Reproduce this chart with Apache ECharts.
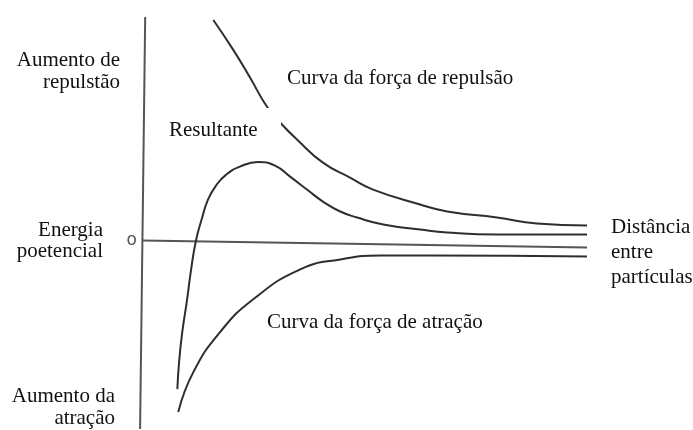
<!DOCTYPE html>
<html>
<head>
<meta charset="utf-8">
<title>Energia potencial</title>
<script src="https://cdn.jsdelivr.net/npm/echarts@6.0.0/dist/echarts.min.js"></script>
<style>
  html, body { margin: 0; padding: 0; background: #fff; }
  #chart { width: 693px; height: 430px; }
</style>
</head>
<body>
<div id="chart"></div>
<script>
// curvas (x = distância, y = energia)
const repulsaoX = [1.58, 2.03, 2.41, 2.79, 3.09, 3.47, 4.05, 4.66, 5.18, 6.24, 6.85, 7.97, 8.87, 10];
const repulsaoY = [11.05, 9.55, 8.15, 6.7, 5.9, 5.05, 3.9, 3.15, 2.55, 1.8, 1.45, 1.15, 0.85, 0.75];

const resultanteX = [0.77, 0.81, 0.88, 0.99, 1.08, 1.19, 1.33, 1.46, 1.64, 1.87, 2.18, 2.59, 2.97, 3.31, 3.69, 4.05, 4.44, 4.82, 5.41, 6.24, 6.85, 7.97, 10];
const resultanteY = [-7.45, -6.05, -4.6, -2.95, -1.45, 0, 1.15, 2.05, 2.75, 3.3, 3.7, 3.93, 3.75, 3.2, 2.55, 1.95, 1.45, 1.15, 0.8, 0.55, 0.4, 0.3, 0.3];

const atracaoX = [0.79, 1.13, 1.73, 2.48, 3.54, 4.44, 5.34, 6.47, 10];
const atracaoY = [-8.6, -6.6, -4.6, -2.95, -1.45, -0.95, -0.75, -0.75, -0.8];

// eixos desenhados a mão (levemente inclinados no original)
const eixoVertX = [0.045, -0.07];
const eixoVertY = [11.2, -9.45];
const eixoHorX = [-0.02, 10];
const eixoHorY = [0, -0.35];

function pares(xs, ys) {
  return xs.map((x, i) => [x, ys[i]]);
}

const fonte = '21px "Liberation Serif", "Times New Roman", serif';

function texto(t, x, y, align) {
  return {
    type: 'text',
    z: 101,
    style: { text: t, x: x, y: y, font: fonte, fill: '#111', align: align, verticalAlign: 'middle' }
  };
}

function curva(nome, dados, cor, suave) {
  return {
    name: nome,
    type: 'line',
    data: dados,
    showSymbol: false,
    smooth: suave,
    clip: false,
    silent: true,
    lineStyle: { color: cor, width: 2 }
  };
}

let myChart = echarts.init(document.getElementById('chart'));

myChart.setOption({
  animation: false,
  backgroundColor: '#fff',
  grid: { left: 121, top: 11, width: 466, height: 420 },
  xAxis: {
    type: 'value',
    min: -0.5,
    max: 10,
    axisLine: { show: false },
    axisTick: { show: false },
    axisLabel: { show: false },
    splitLine: { show: false }
  },
  yAxis: {
    type: 'value',
    min: -9.5,
    max: 11.5,
    interval: 0.5,
    axisLine: { show: false },
    axisTick: { show: false },
    splitLine: { show: false },
    axisLabel: {
      margin: -16,
      color: '#555',
      fontFamily: 'DejaVu Sans',
      fontSize: 17,
      formatter: v => (v === 0 ? 'o' : '')
    }
  },
  series: [
    curva('eixo vertical', pares(eixoVertX, eixoVertY), '#555', false),
    curva('eixo horizontal', pares(eixoHorX, eixoHorY), '#555', false),
    curva('Curva da força de repulsão', pares(repulsaoX, repulsaoY), '#2e2e2e', 0.5),
    curva('Resultante', pares(resultanteX, resultanteY), '#2e2e2e', 0.5),
    curva('Curva da força de atração', pares(atracaoX, atracaoY), '#2e2e2e', 0.5)
  ],
  graphic: [
    // caixa branca atrás de "Resultante" (cobre parte da curva, como no original)
    { type: 'rect', z: 100, shape: { x: 158, y: 108, width: 123, height: 49 }, style: { fill: '#fff' } },
    texto('Resultante', 169, 130, 'left'),
    texto('Curva da força de repulsão', 287, 78, 'left'),
    texto('Curva da força de atração', 267, 322, 'left'),
    texto('Aumento de', 120, 60, 'right'),
    texto('repulstão', 120, 82, 'right'),
    texto('Energia', 103, 230, 'right'),
    texto('poetencial', 103, 251, 'right'),
    texto('Aumento da', 115, 396, 'right'),
    texto('atração', 115, 418, 'right'),
    texto('Distância', 611, 227, 'left'),
    texto('entre', 611, 252, 'left'),
    texto('partículas', 611, 277, 'left')
  ]
});
</script>
</body>
</html>
